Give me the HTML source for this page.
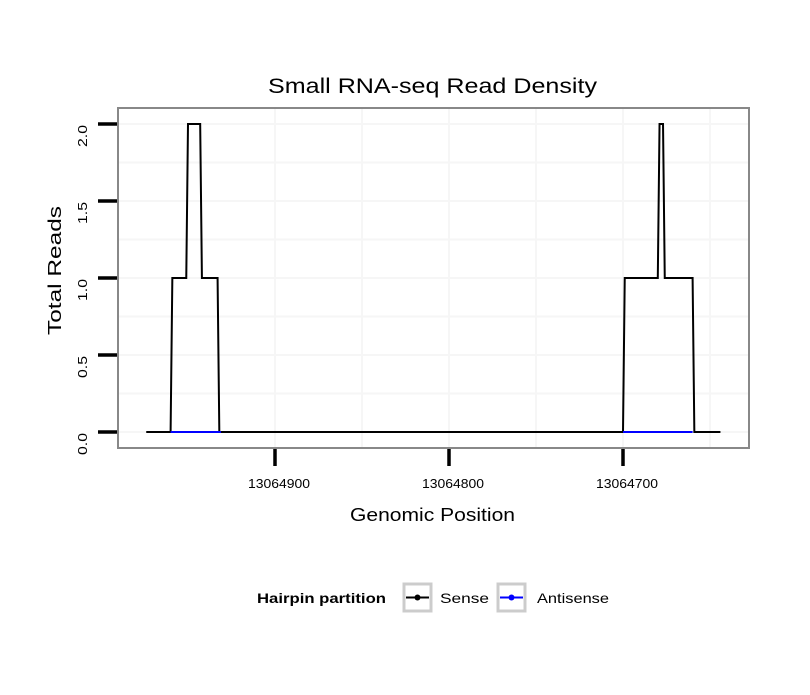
<!DOCTYPE html>
<html><head><meta charset="utf-8"><style>
body{margin:0;background:#fff}
svg text{font-family:"Liberation Sans",sans-serif}
</style></head><body>
<svg id="chart" width="810" height="690" viewBox="0 0 810 690" xmlns="http://www.w3.org/2000/svg">
<rect width="810" height="690" fill="#fff"/>
<text x="268" y="93" font-size="21" textLength="329" lengthAdjust="spacingAndGlyphs">Small RNA-seq Read Density</text>
<g id="grid"></g>
<g id="series"></g>
<rect x="118" y="108" width="631" height="340" fill="none" stroke="#888" stroke-width="2"/>
<g id="axes"></g>
<text x="350" y="521" font-size="18" textLength="165" lengthAdjust="spacingAndGlyphs">Genomic Position</text>
<text transform="translate(61,335) rotate(-90)" font-size="18" textLength="129" lengthAdjust="spacingAndGlyphs">Total Reads</text>
<g>
<text x="257" y="603" font-size="14" font-weight="bold" textLength="129" lengthAdjust="spacingAndGlyphs">Hairpin partition</text>
<g>
<rect x="404" y="584" width="27" height="27" fill="#fff" stroke="#ccc" stroke-width="3"/>
<line x1="406" y1="597.5" x2="429" y2="597.5" stroke="#000" stroke-width="2"/>
<circle cx="417.5" cy="597.5" r="3" fill="#000"/>
<text x="440" y="603" font-size="14" textLength="49" lengthAdjust="spacingAndGlyphs">Sense</text></g>
<g>
<rect x="498" y="584" width="27" height="27" fill="#fff" stroke="#ccc" stroke-width="3"/>
<line x1="500" y1="597.5" x2="523" y2="597.5" stroke="#00f" stroke-width="2"/>
<circle cx="511.5" cy="597.5" r="3" fill="#00f"/>
<text x="537" y="603" font-size="14" textLength="72" lengthAdjust="spacingAndGlyphs">Antisense</text></g>
</g>
</svg>
<script>
const senseX=[13064974,13064960,13064959,13064951,13064950,13064943,13064942,13064933,13064932,13064700,13064699,13064680,13064679,13064677,13064676,13064660,13064659,13064644];
const senseY=[0,0,1,1,2,2,1,1,0,0,1,1,2,2,1,1,0,0];
const antiSegStart=[13064960,13064700];
const antiSegEnd=[13064931,13064660];
const xTicks=[13064900,13064800,13064700];
const yTicks=[0,0.5,1,1.5,2];
const yTickLabels=["0.0","0.5","1.0","1.5","2.0"];
const NS="http://www.w3.org/2000/svg";
const xs=p=>275+(13064900-p)*1.74;
const ys=v=>432-v*154;
function mk(tag,attrs,parent){const e=document.createElementNS(NS,tag);for(const k in attrs)e.setAttribute(k,attrs[k]);parent.appendChild(e);return e;}
const grid=document.getElementById('grid'),series=document.getElementById('series'),axes=document.getElementById('axes');
[0,0.25,0.5,0.75,1,1.25,1.5,1.75,2].forEach(v=>{const l=mk('line',{x1:119,x2:748,y1:ys(v),y2:ys(v),stroke:'#f6f6f6','stroke-width':2},grid);

});
[13064900,13064850,13064800,13064750,13064700,13064650].forEach(p=>{const l=mk('line',{x1:xs(p),x2:xs(p),y1:109,y2:447,stroke:'#f6f6f6','stroke-width':2},grid);

});
const pts=senseX.map((x,i)=>xs(x)+','+ys(senseY[i])).join(' ');
const pl=mk('polyline',{points:pts,fill:'none',stroke:'#000','stroke-width':2},series);


antiSegStart.forEach((s,i)=>{const l=mk('line',{x1:xs(s),x2:xs(antiSegEnd[i]),y1:ys(0),y2:ys(0),stroke:'#00f','stroke-width':2},series);

});
yTicks.forEach((v,i)=>{const t=mk('line',{x1:98,x2:117,y1:ys(v),y2:ys(v),stroke:'#000','stroke-width':3.5},axes);


const tx=mk('text',{transform:`translate(87,${ys(v)+23}) rotate(-90)`,'font-size':13,textLength:22,lengthAdjust:'spacingAndGlyphs'},axes);
tx.textContent=yTickLabels[i];

});
xTicks.forEach(p=>{const t=mk('line',{x1:xs(p),x2:xs(p),y1:449,y2:466,stroke:'#000','stroke-width':3.5},axes);


const tx=mk('text',{x:xs(p)-27,y:488,'font-size':13,textLength:62,lengthAdjust:'spacingAndGlyphs'},axes);
tx.textContent=String(p);

});
</script>
</body></html>
